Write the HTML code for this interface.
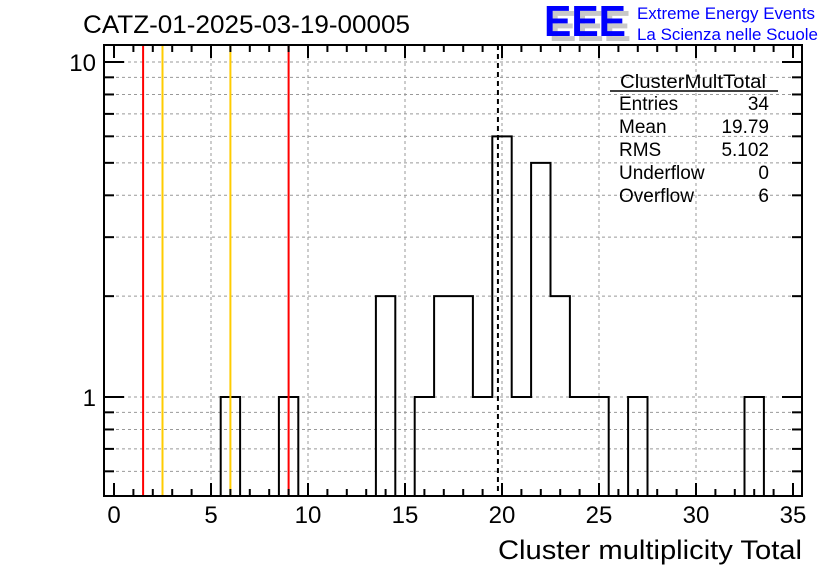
<!DOCTYPE html>
<html><head><meta charset="utf-8"><style>
body{margin:0;background:#fff;}
svg text{font-family:"Liberation Sans",Arial,sans-serif;}
</style></head><body>
<svg id="c" width="836" height="572" xmlns="http://www.w3.org/2000/svg">
<rect width="836" height="572" fill="#fff"/>
<text x="83" y="33" font-size="25" textLength="327" lengthAdjust="spacingAndGlyphs">CATZ-01-2025-03-19-00005</text>
<g>
<text x="549" y="41" font-size="44" font-weight="bold" fill="#c8c8c8" textLength="82" lengthAdjust="spacingAndGlyphs">EEE</text>
<text x="544" y="36" font-size="44" font-weight="bold" fill="#0000ff" textLength="82" lengthAdjust="spacingAndGlyphs">EEE</text>
<text x="637" y="19" font-size="17" fill="#0000ff" textLength="178" lengthAdjust="spacingAndGlyphs">Extreme Energy Events</text>
<text x="637" y="40" font-size="17" fill="#0000ff" textLength="181" lengthAdjust="spacingAndGlyphs">La Scienza nelle Scuole</text>
</g>
<g id="grid"></g><g id="marks"></g><g id="axes"></g>
<g font-size="19">
<text x="620" y="88" textLength="146" lengthAdjust="spacingAndGlyphs">ClusterMultTotal</text>
<line x1="610" y1="91" x2="778" y2="91" stroke="#000" stroke-width="1.5"/>
<text x="619" y="110">Entries</text><text x="769" y="110" text-anchor="end">34</text>
<text x="619" y="133">Mean</text><text x="769" y="133" text-anchor="end">19.79</text>
<text x="619" y="156">RMS</text><text x="769" y="156" text-anchor="end">5.102</text>
<text x="619" y="179">Underflow</text><text x="769" y="179" text-anchor="end">0</text>
<text x="619" y="202">Overflow</text><text x="769" y="202" text-anchor="end">6</text>
</g>
<text x="802" y="559" font-size="27" text-anchor="end" textLength="304" lengthAdjust="spacingAndGlyphs">Cluster multiplicity Total</text>
</svg>
<script>
const binCenters=[6,9,14,16,17,18,19,20,21,22,23,24,25,27,33];
const binCounts=[1,1,2,1,2,2,1,6,1,5,2,1,1,1,1];
const xTicks=[0,5,10,15,20,25,30,35];
const yTickLabels=[1,10];
const redLines=[1.5,9.0];
const orangeLines=[2.5,6.0];
const meanValue=19.79;
const NS="http://www.w3.org/2000/svg";
const L=104,R=802,T=45,B=496;
const X=v=>114+v*(793-114)/35;
const Y=v=>397-335*Math.log10(v);
function el(p,t,a){const e=document.createElementNS(NS,t);for(const k in a)e.setAttribute(k,a[k]);p.appendChild(e);return e;}
const grid=document.getElementById('grid'),marks=document.getElementById('marks'),axes=document.getElementById('axes');
const g='#999';
for(const v of xTicks){if(v===0||v===35)continue;const ln=el(grid,'line',{x1:X(v),x2:X(v),y1:T,y2:B,stroke:g,'stroke-dasharray':'3,3'});
}
const yMinor=[0.6,0.7,0.8,0.9,1,2,3,4,5,6,7,8,9,10];
for(const v of yMinor){const ln=el(grid,'line',{x1:L,x2:R,y1:Y(v),y2:Y(v),stroke:g,'stroke-dasharray':'3,3'});
}
const all={};binCenters.forEach((c,i)=>all[c]=binCounts[i]);
let d='M'+X(0.5)+','+B;
for(let c=1;c<=35;c++){const v=all[c]||0;const y=v>0?Y(v):B;d+=' L'+X(c-0.5)+','+y+' L'+X(c+0.5)+','+y;}
const hp=el(marks,'path',{d:d,fill:'none',stroke:'#000','stroke-width':2});

redLines.forEach(v=>{const ln=el(marks,'line',{x1:X(v),x2:X(v),y1:T,y2:B,stroke:'#ff0000','stroke-width':2});
});
orangeLines.forEach(v=>{const ln=el(marks,'line',{x1:X(v),x2:X(v),y1:T,y2:B,stroke:'#ffcc00','stroke-width':2});
});
const ml=el(marks,'line',{x1:X(meanValue),x2:X(meanValue),y1:T,y2:B,stroke:'#000','stroke-width':2,'stroke-dasharray':'5,4'});

const fr=el(axes,'rect',{x:L,y:T,width:R-L,height:B-T,fill:'none',stroke:'#000','stroke-width':2});

for(let v=0;v<=35;v++){const len=v%5===0?13:7;
el(axes,'line',{x1:X(v),x2:X(v),y1:B,y2:B-len,stroke:'#000','stroke-width':2});
el(axes,'line',{x1:X(v),x2:X(v),y1:T,y2:T+len,stroke:'#000','stroke-width':2});}
xTicks.forEach(v=>{const t=el(axes,'text',{x:X(v),y:523,'font-size':24,'text-anchor':'middle'});t.textContent=v;
});
for(const v of yMinor){const len=(v===1||v===10)?20:10;
el(axes,'line',{x1:L,x2:L+len,y1:Y(v),y2:Y(v),stroke:'#000','stroke-width':2});
el(axes,'line',{x1:R,x2:R-len,y1:Y(v),y2:Y(v),stroke:'#000','stroke-width':2});}
yTickLabels.forEach(v=>{const t=el(axes,'text',{x:96,y:Y(v)+9,'font-size':24,'text-anchor':'end'});t.textContent=v;
});
</script>
</body></html>
